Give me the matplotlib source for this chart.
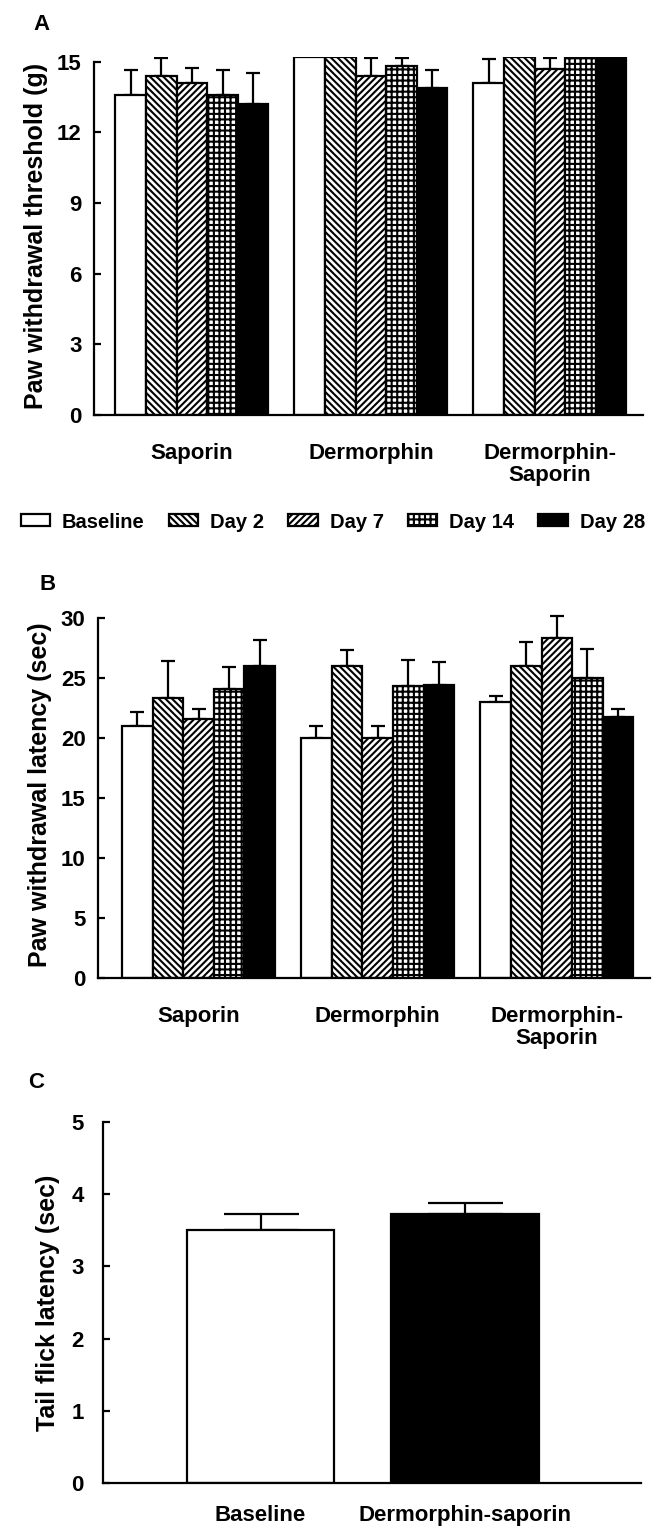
import numpy as np
import matplotlib
matplotlib.use("Agg")
import matplotlib.pyplot as plt
from matplotlib.patches import Patch

plt.rcParams['font.family'] = ['Liberation Sans', 'DejaVu Sans']
plt.rcParams['font.weight'] = 'bold'
plt.rcParams['axes.labelweight'] = 'bold'
plt.rcParams['hatch.linewidth'] = 1.5
plt.rcParams['axes.linewidth'] = 1.6

# ---- data ----
groups = ["Saporin", "Dermorphin", "Dermorphin-\nSaporin"]
timepoints = ["Baseline", "Day 2", "Day 7", "Day 14", "Day 28"]

# panel A: paw withdrawal threshold (g), rows = timepoints, cols = groups
thr_mean = [[13.6, 15.2, 14.1],
            [14.4, 15.2, 15.2],
            [14.1, 14.4, 14.7],
            [13.6, 14.8, 15.2],
            [13.2, 13.9, 15.2]]
thr_err = [[1.05, 0.0, 1.0],
           [0.75, 0.0, 0.0],
           [0.65, 0.75, 0.45],
           [1.05, 0.35, 0.0],
           [1.3, 0.75, 0.0]]

# panel B: paw withdrawal latency (sec)
lat_mean = [[21.0, 20.0, 23.0],
            [23.3, 26.0, 26.0],
            [21.6, 20.0, 28.3],
            [24.1, 24.3, 25.0],
            [26.0, 24.4, 21.75]]
lat_err = [[1.2, 1.0, 0.5],
           [3.1, 1.3, 2.0],
           [0.8, 1.0, 1.9],
           [1.8, 2.2, 2.4],
           [2.2, 1.9, 0.65]]

# panel C: tail flick latency (sec)
tf_labels = ["Baseline", "Dermorphin-saporin"]
tf_mean = [3.5, 3.73]
tf_err = [0.23, 0.15]

faces = ["white", "white", "white", "white", "black"]
hatches = [None, "\\" * 5, "/" * 5, "+++", None]

W, H = 659, 1527
fig = plt.figure(figsize=(W / 100, H / 100), dpi=100)

def px_axes(l, r, top, bot):
    return fig.add_axes([l / W, 1 - bot / H, (r - l) / W, (bot - top) / H])

def style(ax, ymax_tick):
    for s in ["top", "right"]:
        ax.spines[s].set_visible(False)
    ax.spines["left"].set_bounds(0, ymax_tick)
    ax.tick_params(axis="y", direction="in", length=5, width=1.6, labelsize=16, pad=9)
    ax.tick_params(axis="x", length=0, labelsize=16, pad=20)

def grouped(ax, means, errs):
    x = np.arange(len(groups))
    w = 0.171
    for i in range(len(timepoints)):
        ax.bar(x + (i - 2) * w, means[i], w, color=faces[i], edgecolor="black",
               hatch=hatches[i], linewidth=1.6, zorder=2)
        ax.errorbar(x + (i - 2) * w, means[i], yerr=[np.zeros(3), errs[i]], fmt="none",
                    ecolor="black", elinewidth=1.6, capsize=5, capthick=1.6, zorder=1)
    ax.set_xticks(x)
    ax.set_xticklabels(groups, linespacing=1.1)

# Panel A
axA = px_axes(94, 643, 57, 415)
grouped(axA, thr_mean, thr_err)
axA.set_xlim(-0.547, 2.52)
axA.set_ylim(0, 15.2)
axA.set_yticks([0, 3, 6, 9, 12, 15])
style(axA, 15)
axA.set_ylabel("Paw withdrawal threshold (g)", fontsize=18, labelpad=6)
fig.text(42 / W, 1 - 25 / H, "A", fontsize=16, ha="center", va="center")

# legend
handles = [Patch(facecolor=faces[i], edgecolor="black", hatch=hatches[i], linewidth=1.6)
           for i in range(len(timepoints))]
fig.legend(handles, timepoints, loc="center", bbox_to_anchor=(0.505, 1 - 522 / H), ncol=5,
           frameon=False, fontsize=14.5, handlelength=1.45, handleheight=0.55,
           handletextpad=0.6, columnspacing=1.2)

# Panel B
axB = px_axes(98, 650, 612, 978)
grouped(axB, lat_mean, lat_err)
axB.set_xlim(-0.561, 2.52)
axB.set_ylim(0, 30.5)
axB.set_yticks([0, 5, 10, 15, 20, 25, 30])
style(axB, 30)
axB.set_ylabel("Paw withdrawal latency (sec)", fontsize=18, labelpad=6)
fig.text(48 / W, 1 - 585 / H, "B", fontsize=16, ha="center", va="center")

# Panel C
axC = px_axes(103, 641, 1122, 1483)
xc = np.arange(len(tf_labels))
axC.bar(xc, tf_mean, 0.72, color=["white", "black"], edgecolor="black", linewidth=1.6, zorder=2)
axC.errorbar(xc, tf_mean, yerr=[np.zeros(2), tf_err], fmt="none", ecolor="black",
             elinewidth=1.6, capsize=27, capthick=1.6, zorder=1)
axC.set_xlim(-0.77, 1.86)
axC.set_ylim(0, 5)
axC.set_yticks([0, 1, 2, 3, 4, 5])
axC.set_xticks(xc)
axC.set_xticklabels(tf_labels)
style(axC, 5)
axC.tick_params(axis="y", pad=14)
axC.tick_params(axis="x", pad=16)
axC.set_ylabel("Tail flick latency (sec)", fontsize=18, labelpad=8)
fig.text(36 / W, 1 - 1082 / H, "C", fontsize=16, ha="center", va="center")

fig.savefig("out.png", dpi=100)
